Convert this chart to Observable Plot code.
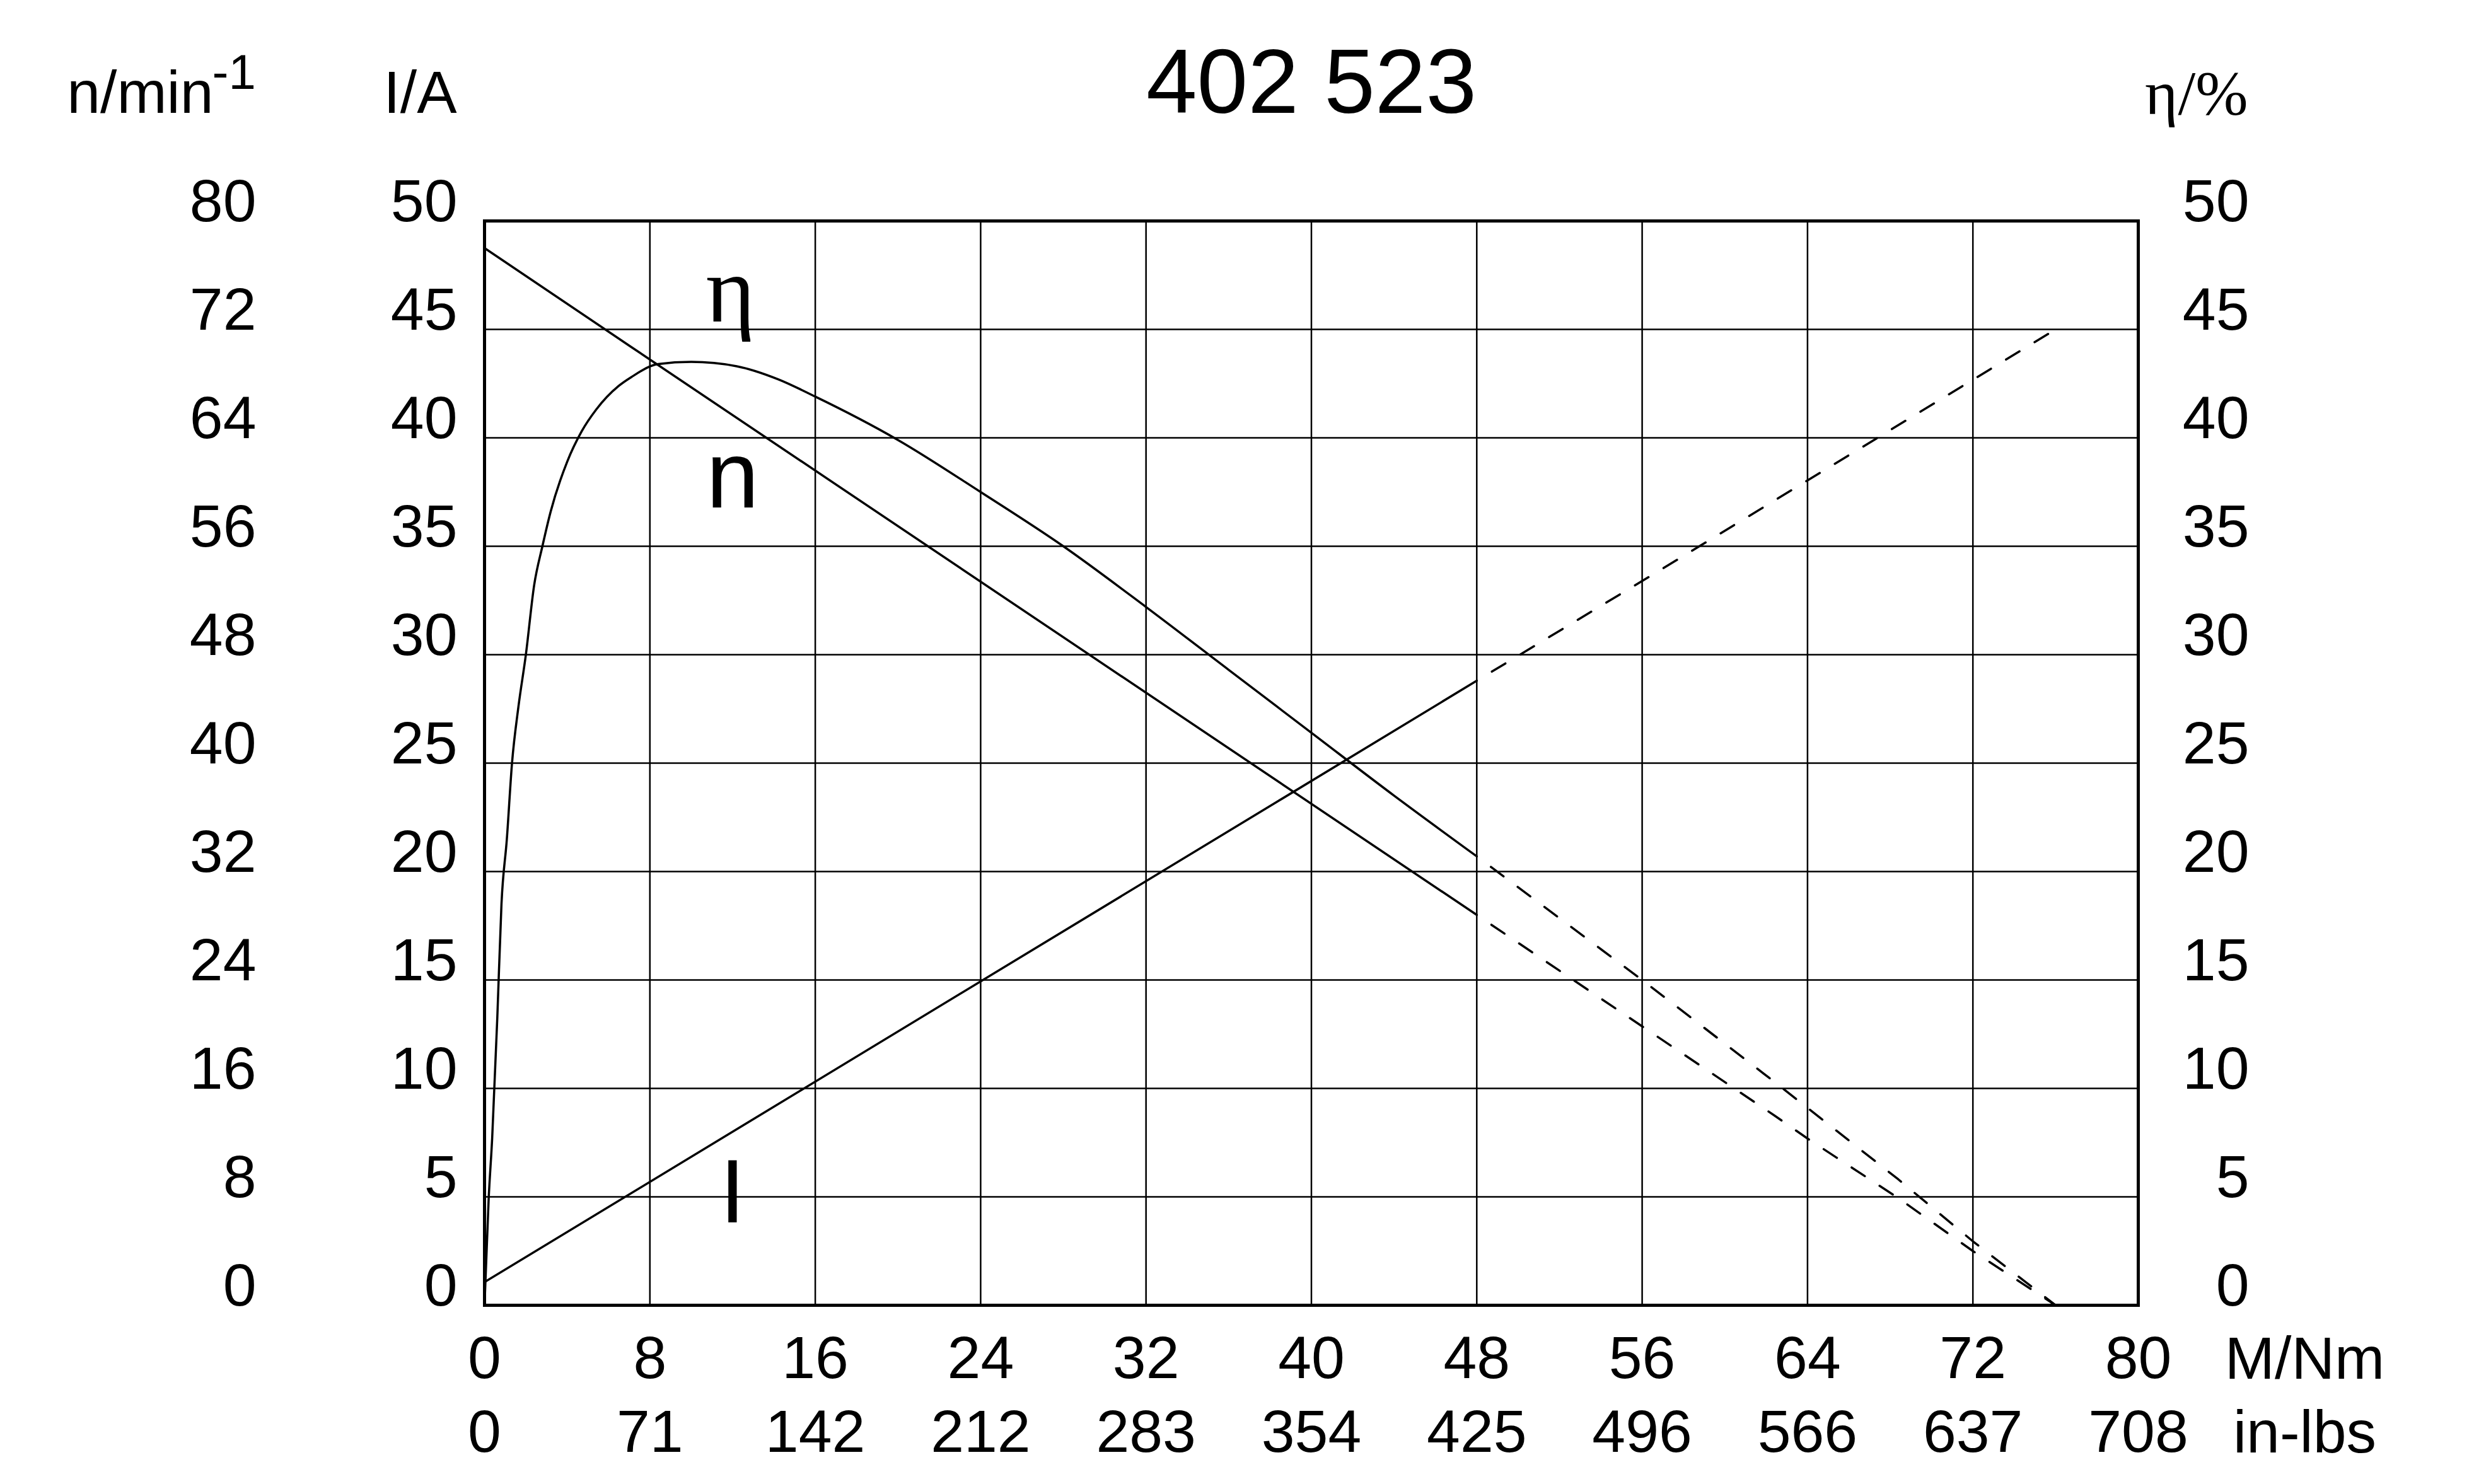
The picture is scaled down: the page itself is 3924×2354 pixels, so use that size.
<!DOCTYPE html>
<html>
<head>
<meta charset="utf-8">
<script src="https://cdn.jsdelivr.net/npm/d3@7"></script>
<script src="https://cdn.jsdelivr.net/npm/@observablehq/plot@0.6"></script>
<style>
  html, body { margin: 0; padding: 0; background: #fff; }
  svg { display: block; }
</style>
</head>
<body>
<script>
// ---- tick labels ----
const torqueTicks = [0, 8, 16, 24, 32, 40, 48, 56, 64, 72, 80];          // M / Nm
const inLbsLabels = ["0", "71", "142", "212", "283", "354", "425", "496", "566", "637", "708"];
const currentTicks = [0, 5, 10, 15, 20, 25, 30, 35, 40, 45, 50];          // I / A
const speedTicks = [0, 8, 16, 24, 32, 40, 48, 56, 64, 72, 80];            // n / min-1
const effTicks = [0, 5, 10, 15, 20, 25, 30, 35, 40, 45, 50];              // eta / %

// ---- curves, [M (Nm), value] ----
const currentSolid = [[0, 1.07], [48, 28.8]];
const currentDashed = [[48, 28.8], [56.7, 33.8], [76, 45.0]];

const speedSolid = [[0, 78.0], [7.1, 70.7], [48, 28.8]];
const speedDashed = [[48, 28.8], [62.4, 14.0], [64, 12.3], [68.4, 7.9], [72, 4.0], [76, 0]];

const effSolid = [
  [0, 0], [0.2, 4.9], [0.37, 7.7], [0.62, 13.3], [0.82, 18.5], [1.08, 21.5],
  [1.33, 25.0], [1.64, 27.6], [2.0, 30.0], [2.4, 33.2], [2.8, 35.0], [3.2, 36.6],
  [4.0, 38.9], [4.7, 40.3], [5.4, 41.3], [6.5, 42.4], [7.1, 42.8], [8.4, 43.4],
  [10, 43.5], [12.2, 43.3], [14.2, 42.7], [16, 41.9], [20, 39.9], [24, 37.5],
  [28, 35.0], [32, 32.2], [36, 29.3], [40, 26.4], [44, 23.5], [48, 20.7]
];
const effDashed = [[48, 20.7], [56, 15.0], [62.4, 10.3], [64, 9.1], [68.4, 5.8], [72, 2.95], [75, 0.74], [76, 0]];

// speed axis (0..80) shares the frame with current axis (0..50)
const speedToFrame = v => v * 50 / 80;

const sans = "'Liberation Sans', Arial, Helvetica, sans-serif";
const serif = "'Liberation Serif', 'Times New Roman', serif";
const dash = {strokeDasharray: "25,28", strokeDashoffset: 25};
const lw = 3.5;

const chart = Plot.plot({
  width: 3924,
  height: 2354,
  marginLeft: 768,
  marginRight: 533,
  marginTop: 350,
  marginBottom: 284,
  x: {domain: [0, 80], axis: null},
  y: {domain: [0, 50], axis: null},
  style: {background: "#fff", color: "#000", fontFamily: sans},
  marks: [
    // grid
    Plot.ruleX(torqueTicks.slice(1, -1), {stroke: "#000", strokeWidth: 2.5}),
    Plot.ruleY(currentTicks.slice(1, -1), {stroke: "#000", strokeWidth: 2.5}),
    Plot.frame({stroke: "#000", strokeWidth: 5}),

    // current I
    Plot.line(currentSolid, {x: d => d[0], y: d => d[1], stroke: "#000", strokeWidth: lw}),
    Plot.line(currentDashed, {x: d => d[0], y: d => d[1], stroke: "#000", strokeWidth: lw, ...dash}),
    // speed n
    Plot.line(speedSolid, {x: d => d[0], y: d => speedToFrame(d[1]), stroke: "#000", strokeWidth: lw}),
    Plot.line(speedDashed, {x: d => d[0], y: d => speedToFrame(d[1]), stroke: "#000", strokeWidth: lw, ...dash}),
    // efficiency eta
    Plot.line(effSolid, {x: d => d[0], y: d => d[1], stroke: "#000", strokeWidth: lw, curve: "monotone-x"}),
    Plot.line(effDashed, {x: d => d[0], y: d => d[1], stroke: "#000", strokeWidth: lw, ...dash}),

    // left tick labels: n/min-1 and I/A
    Plot.text(speedTicks, {y: (d, i) => currentTicks[i], text: d => String(d), frameAnchor: "left",
      textAnchor: "end", lineAnchor: "bottom", dx: -362, fontSize: 95}),
    Plot.text(currentTicks, {y: d => d, text: d => String(d), frameAnchor: "left",
      textAnchor: "end", lineAnchor: "bottom", dx: -43, fontSize: 95}),
    // right tick labels: eta/%
    Plot.text(effTicks, {y: d => d, text: d => String(d), frameAnchor: "right",
      textAnchor: "end", lineAnchor: "bottom", dx: 176, fontSize: 95}),
    // bottom tick labels
    Plot.text(torqueTicks, {x: d => d, text: d => String(d), frameAnchor: "bottom",
      textAnchor: "middle", lineAnchor: "bottom", dy: 115, fontSize: 95}),
    Plot.text(inLbsLabels, {x: (d, i) => torqueTicks[i], text: d => d, frameAnchor: "bottom",
      textAnchor: "middle", lineAnchor: "bottom", dy: 232, fontSize: 95}),

    // axis unit labels
    Plot.text(["M/Nm"], {frameAnchor: "bottom-right", textAnchor: "middle", lineAnchor: "bottom",
      dx: 264, dy: 116, fontSize: 95}),
    Plot.text(["in-lbs"], {frameAnchor: "bottom-right", textAnchor: "middle", lineAnchor: "bottom",
      dx: 264, dy: 233, fontSize: 95}),
    Plot.text(["n/min"], {frameAnchor: "top-left", textAnchor: "end", lineAnchor: "bottom",
      dx: -430, dy: -172, fontSize: 95}),
    Plot.text(["-1"], {frameAnchor: "top-left", textAnchor: "start", lineAnchor: "bottom",
      dx: -432, dy: -210, fontSize: 78}),
    Plot.text(["I/A"], {frameAnchor: "top-left", textAnchor: "end", lineAnchor: "bottom",
      dx: -44, dy: -172, fontSize: 95}),
    Plot.text(["η/%"], {frameAnchor: "top-right", textAnchor: "end", lineAnchor: "bottom",
      dx: 174, dy: -170, fontSize: 100, fontFamily: serif}),

    // title
    Plot.text(["402 523"], {frameAnchor: "top", textAnchor: "middle", lineAnchor: "bottom",
      dy: -172, fontSize: 145}),

    // curve labels
    Plot.text(["η"], {x: 11.9, y: 45.35, textAnchor: "middle", lineAnchor: "bottom",
      fontSize: 150, fontFamily: serif}),
    Plot.text(["n"], {x: 12.0, y: 36.8, textAnchor: "middle", lineAnchor: "bottom", fontSize: 150}),
    Plot.text(["I"], {x: 12.0, y: 3.81, textAnchor: "middle", lineAnchor: "bottom", fontSize: 143})
  ]
});

document.body.appendChild(chart);
</script>
</body>
</html>
